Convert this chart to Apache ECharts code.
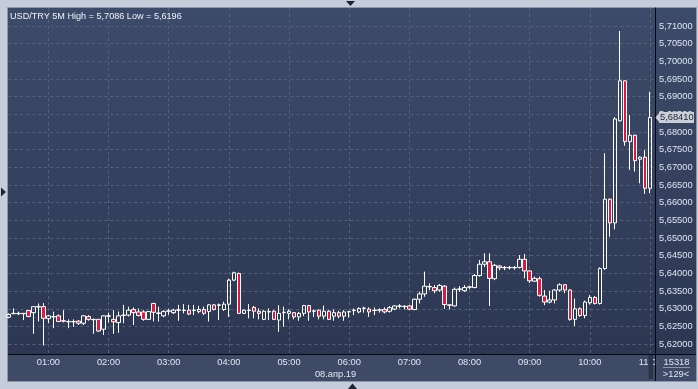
<!DOCTYPE html>
<html><head><meta charset="utf-8">
<script src="https://cdn.jsdelivr.net/npm/echarts@6/dist/echarts.min.js"></script>
<style>html,body{margin:0;padding:0;background:#c4cdd9;}#c{width:698px;height:389px;}</style>
</head><body><div id="c"></div>
<script>
const titleText = 'USD/TRY 5M High = 5,7086 Low = 5,6196';
const dateLabel = '08.апр.19';
const volumeLabel = '15318';
const barsLabel = '>129<';
const priceTicks = [5.62, 5.625, 5.63, 5.635, 5.64, 5.645, 5.65, 5.655, 5.66, 5.665, 5.67, 5.675, 5.68, 5.685, 5.69, 5.695, 5.70, 5.705, 5.71];

// 5-minute bars from 00:20 to 11:00 (plus one empty slot 11:05)
const categories = [];
for (let m = 20; m <= 665; m += 5) {
  categories.push(String(Math.floor(m / 60)).padStart(2, '0') + ':' + String(m % 60).padStart(2, '0'));
}

const opens = [5.6276,5.6286,5.6287,5.6287,5.6295,5.6289,5.6306,5.6306,5.6272,5.6278,
5.6280,5.6265,5.6264,5.6263,5.6265,5.6259,5.6278,5.6270,5.6270,5.6242,
5.6280,5.6270,5.6261,5.6281,5.6282,5.6298,5.6291,5.6291,5.6270,5.6315,
5.6288,5.6280,5.6293,5.6289,5.6296,5.6295,5.6296,5.6295,5.6292,5.6298,
5.6292,5.6311,5.6310,5.6298,5.6313,5.6381,5.6400,5.6287,5.6296,5.6304,
5.6293,5.6270,5.6292,5.6293,5.6268,5.6289,5.6287,5.6289,5.6277,5.6287,
5.6309,5.6294,5.6296,5.6279,5.6293,5.6279,5.6289,5.6279,5.6291,5.6295,
5.6291,5.6301,5.6299,5.6295,5.6296,5.6298,5.6293,5.6299,5.6307,5.6306,
5.6308,5.6298,5.6327,5.6342,5.6363,5.6360,5.6353,5.6364,5.6311,5.6308,
5.6355,5.6351,5.6361,5.6360,5.6394,5.6426,5.6433,5.6385,5.6421,5.6416,
5.6417,5.6416,5.6417,5.6440,5.6407,5.6378,5.6385,5.6336,5.6319,5.6325,
5.6353,5.6368,5.6353,5.6270,5.6300,5.6281,5.6317,5.6332,5.6315,5.6414,
5.6610,5.6543,5.6832,5.6945,5.6773,5.6791,5.6723,5.6729,5.6641];

const closes = [5.6284,5.6287,5.6286,5.6286,5.6278,5.6306,5.6305,5.6273,5.6280,5.6277,
5.6264,5.6266,5.6263,5.6264,5.6259,5.6280,5.6270,5.6269,5.6237,5.6280,
5.6279,5.6263,5.6280,5.6282,5.6296,5.6289,5.6281,5.6270,5.6292,5.6290,
5.6287,5.6292,5.6294,5.6296,5.6297,5.6296,5.6285,5.6296,5.6298,5.6287,
5.6311,5.6298,5.6311,5.6313,5.6381,5.6402,5.6287,5.6296,5.6295,5.6293,
5.6287,5.6293,5.6291,5.6270,5.6287,5.6290,5.6293,5.6277,5.6287,5.6309,
5.6291,5.6293,5.6279,5.6293,5.6270,5.6289,5.6279,5.6291,5.6292,5.6296,
5.6301,5.6302,5.6291,5.6296,5.6297,5.6291,5.6303,5.6308,5.6308,5.6307,
5.6299,5.6327,5.6342,5.6364,5.6362,5.6351,5.6366,5.6312,5.6310,5.6355,
5.6356,5.6360,5.6362,5.6394,5.6426,5.6433,5.6386,5.6423,5.6416,5.6417,
5.6416,5.6417,5.6440,5.6407,5.6379,5.6386,5.6338,5.6319,5.6325,5.6353,
5.6368,5.6353,5.6270,5.6300,5.6281,5.6319,5.6332,5.6315,5.6414,5.6610,
5.6543,5.6837,5.6945,5.6773,5.6791,5.6719,5.6729,5.6641,5.6841];

const lows = [5.6273,5.6285,5.6282,5.6268,5.6276,5.6229,5.6264,5.6196,5.6259,5.6245,
5.6262,5.6261,5.6245,5.6249,5.6254,5.6254,5.6266,5.6229,5.6235,5.6226,
5.6261,5.6229,5.6232,5.6259,5.6278,5.6254,5.6278,5.6266,5.6268,5.6264,
5.6264,5.6276,5.6283,5.6285,5.6266,5.6287,5.6282,5.6282,5.6287,5.6282,
5.6264,5.6295,5.6268,5.6294,5.6277,5.6378,5.6285,5.6285,5.6273,5.6273,
5.6270,5.6268,5.6268,5.6268,5.6235,5.6249,5.6270,5.6270,5.6266,5.6279,
5.6266,5.6277,5.6270,5.6270,5.6268,5.6266,5.6273,5.6266,5.6275,5.6282,
5.6287,5.6289,5.6277,5.6282,5.6289,5.6287,5.6289,5.6296,5.6301,5.6298,
5.6296,5.6296,5.6315,5.6334,5.6353,5.6344,5.6348,5.6300,5.6298,5.6306,
5.6348,5.6348,5.6355,5.6358,5.6391,5.6418,5.6308,5.6381,5.6409,5.6409,
5.6411,5.6411,5.6414,5.6386,5.6373,5.6376,5.6334,5.6310,5.6315,5.6315,
5.6348,5.6344,5.6266,5.6251,5.6277,5.6273,5.6312,5.6312,5.6312,5.6410,
5.6504,5.6525,5.6830,5.6761,5.6693,5.6688,5.6655,5.6625,5.6627];

const highs = [5.6287,5.6301,5.6292,5.6288,5.6296,5.6307,5.6315,5.6316,5.6282,5.6292,
5.6284,5.6296,5.6270,5.6270,5.6268,5.6282,5.6282,5.6272,5.6271,5.6281,
5.6289,5.6296,5.6292,5.6311,5.6306,5.6304,5.6301,5.6296,5.6294,5.6317,
5.6306,5.6296,5.6300,5.6300,5.6311,5.6313,5.6311,5.6311,5.6308,5.6306,
5.6313,5.6313,5.6315,5.6320,5.6385,5.6405,5.6402,5.6298,5.6313,5.6308,
5.6301,5.6296,5.6301,5.6296,5.6310,5.6306,5.6298,5.6291,5.6291,5.6311,
5.6311,5.6298,5.6298,5.6309,5.6296,5.6298,5.6294,5.6296,5.6294,5.6301,
5.6304,5.6306,5.6304,5.6304,5.6301,5.6304,5.6308,5.6310,5.6313,5.6310,
5.6310,5.6329,5.6348,5.6405,5.6372,5.6367,5.6370,5.6367,5.6312,5.6360,
5.6364,5.6367,5.6364,5.6398,5.6438,5.6457,5.6457,5.6427,5.6424,5.6421,
5.6421,5.6421,5.6452,5.6455,5.6409,5.6391,5.6391,5.6353,5.6351,5.6355,
5.6372,5.6370,5.6355,5.6329,5.6304,5.6323,5.6339,5.6336,5.6417,5.6740,
5.6612,5.6842,5.7086,5.6946,5.6848,5.6792,5.6731,5.6749,5.6914];

const candleData = opens.map((o, i) => [o, closes[i], lows[i], highs[i]]);

const FONT = 'Liberation Sans, Arial, sans-serif';
const FS = 9.3;
const LABEL_COLOR = '#dde6f2';
const GRID_COLOR = '#55617b';
const fmtPrice = v => v.toFixed(5).replace('.', ',');

const panelGrad = {type: 'linear', x: 0, y: 0, x2: 0, y2: 1,
  colorStops: [{offset: 0, color: '#3d4b6a'}, {offset: 1, color: '#2b3550'}]};

const chart = echarts.init(document.getElementById('c'), null, {renderer: 'canvas'});

const option = {
  animation: false,
  backgroundColor: '#c4cdd9',
  title: {
    text: titleText, left: 10, top: 11.5, padding: 0,
    textStyle: {color: '#eef2f8', fontSize: 9.1, fontWeight: 'normal', fontFamily: FONT}
  },
  grid: {left: 8.3, right: 43, top: 8, bottom: 35},
  xAxis: {
    type: 'category', data: categories, boundaryGap: false,
    axisLine: {show: true, lineStyle: {color: '#06090f', width: 1}},
    axisTick: {show: false},
    axisLabel: {
      interval: (i, v) => v.slice(3) === '00',
      color: LABEL_COLOR, fontSize: FS, fontFamily: FONT, margin: 4
    },
    splitLine: {
      show: true, interval: (i, v) => v.slice(3) === '00',
      lineStyle: {color: GRID_COLOR, type: [3, 3], width: 1}
    }
  },
  yAxis: {
    type: 'value', position: 'right', min: 5.6172, max: 5.7151, scale: true,
    axisLine: {show: true, lineStyle: {color: '#06090f', width: 1}},
    axisTick: {show: false, customValues: priceTicks},
    axisLabel: {
      customValues: priceTicks, formatter: fmtPrice,
      color: LABEL_COLOR, fontSize: FS, fontFamily: FONT, margin: 4
    },
    splitLine: {show: true, lineStyle: {color: GRID_COLOR, type: [3, 3], width: 1}}
  },
  series: [{
    type: 'candlestick', data: candleData, barWidth: 4, clip: true,
    itemStyle: {
      color: 'rgba(0,0,0,0)', color0: '#e3173c',
      borderColor: '#ffffff', borderColor0: '#ffffff', borderWidth: 1
    },
    emphasis: {disabled: true}
  }],
  graphic: {elements: [
    {id: 'panel', type: 'rect', z: -10, silent: true, shape: {x: 8, y: 8, width: 688, height: 373}, style: {fill: panelGrad}},
    {id: 'band', type: 'rect', z: -9, silent: true, shape: {x: 8, y: 354, width: 647, height: 27}, style: {fill: '#3f4b66'}},
    {id: 'frame', type: 'rect', z: -8, silent: true, shape: {x: 7.5, y: 7.5, width: 689, height: 374}, style: {fill: 'none', stroke: '#8d98aa', lineWidth: 1}},
    {id: 'corner', type: 'rect', z: 5, silent: true, shape: {x: 656, y: 354.5, width: 40, height: 26.5}, style: {fill: '#3f4b66'}},
    {id: 'scroll', type: 'rect', z: 5, silent: true, shape: {x: 648.5, y: 355, width: 4.5, height: 24}, style: {fill: '#2a344d'}},
    {id: 'rline', type: 'line', z: 6, silent: true, shape: {x1: 655.5, y1: 354, x2: 655.5, y2: 381}, style: {stroke: '#06090f', lineWidth: 1}},
    {id: 'hline', type: 'line', z: 6, silent: true, shape: {x1: 655, y1: 354.5, x2: 696, y2: 354.5}, style: {stroke: '#06090f', lineWidth: 1}},
    {id: 'date', type: 'text', z: 6, silent: true, style: {text: dateLabel, x: 335.5, y: 374, fill: LABEL_COLOR, font: FS + 'px ' + FONT, align: 'center', verticalAlign: 'middle', textAlign: 'center', textVerticalAlign: 'middle'}},
    {id: 'vol', type: 'text', z: 7, silent: true, style: {text: volumeLabel, x: 676.5, y: 362, fill: LABEL_COLOR, font: FS + 'px ' + FONT, align: 'center', verticalAlign: 'middle', textAlign: 'center', textVerticalAlign: 'middle'}},
    {id: 'sep', type: 'line', z: 7, silent: true, shape: {x1: 663, y1: 367.5, x2: 690, y2: 367.5}, style: {stroke: '#8d98aa', lineWidth: 1}},
    {id: 'bars', type: 'text', z: 7, silent: true, style: {text: barsLabel, x: 676, y: 374.5, fill: LABEL_COLOR, font: FS + 'px ' + FONT, align: 'center', verticalAlign: 'middle', textAlign: 'center', textVerticalAlign: 'middle'}},
    {id: 'triTop', type: 'polygon', z: 7, silent: true, shape: {points: [[346, 1], [355, 1], [350.5, 6]]}, style: {fill: '#1c2435'}},
    {id: 'triLeft', type: 'polygon', z: 7, silent: true, shape: {points: [[1, 187.5], [1, 196.5], [6, 192]]}, style: {fill: '#1c2435'}},
    {id: 'triBot', type: 'polygon', z: 7, silent: true, shape: {points: [[348, 389], [357, 389], [352.5, 383.5]]}, style: {fill: '#1c2435'}}
  ]}
};
chart.setOption(option);

// current price tag, placed through the axis scale
const lastClose = closes[closes.length - 1];
const py = chart.convertToPixel({yAxisIndex: 0}, lastClose);
chart.setOption({graphic: {elements: [
  {id: 'tagArrow', type: 'polygon', z: 20, silent: true, shape: {points: [[655.5, py], [659.5, py - 5], [659.5, py + 5]]}, style: {fill: '#c9ced7'}},
  {id: 'tagBox', type: 'rect', z: 20, silent: true, shape: {x: 659, y: py - 5.5, width: 35, height: 11}, style: {fill: '#c9ced7'}},
  {id: 'tagText', type: 'text', z: 21, silent: true, style: {text: fmtPrice(lastClose), x: 660, y: py, fill: '#1b2233', font: FS + 'px ' + FONT, align: 'left', verticalAlign: 'middle', textAlign: 'left', textVerticalAlign: 'middle'}}
]}});
</script>
</body></html>
